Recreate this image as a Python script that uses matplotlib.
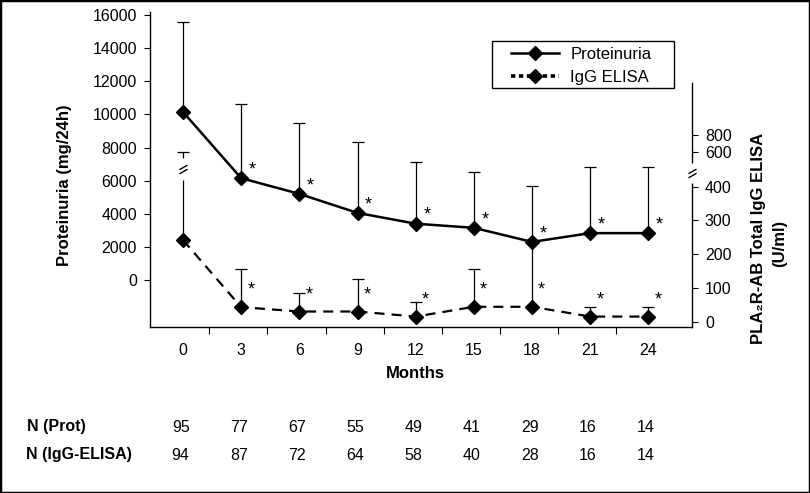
import numpy as np
import matplotlib
matplotlib.use('Agg')
import matplotlib.pyplot as plt
from matplotlib.lines import Line2D
from matplotlib.patches import Rectangle
from matplotlib.path import Path
import matplotlib.transforms as mtransforms

# ---------------- data ----------------
months = ['0', '3', '6', '9', '12', '15', '18', '21', '24']
prot_mean = [10150, 6150, 5200, 4050, 3400, 3150, 2300, 2830, 2830]
prot_sd = [5430, 4480, 4270, 4280, 3730, 3400, 3390, 4010, 4010]
igg_mean = [242, 43, 30, 30, 15, 44, 44, 15, 15]
igg_sd = [358, 113, 56, 97, 42, 112, 190, 28, 28]
n_prot = [95, 77, 67, 55, 49, 41, 29, 16, 14]
n_igg = [94, 87, 72, 64, 58, 40, 28, 16, 14]
right_ticks = [0, 100, 200, 300, 400, 600, 800]
left_ticks = [0, 2000, 4000, 6000, 8000, 10000, 12000, 14000, 16000]

# broken right-axis scale (400 -> 800 compressed)
brk_v = [-1000, 400, 600, 800, 10000]
brk_l = [-1000, 400, 504, 552, 1000]


def fwd(v):
    return np.interp(v, brk_v, brk_l)


def inv(l):
    return np.interp(l, brk_l, brk_v)


SANS = ['Liberation Sans', 'DejaVu Sans']
plt.rcParams['font.family'] = SANS

W, H = 810, 493
fig = plt.figure(figsize=(W / 100, H / 100), dpi=100)
ax = fig.add_axes([150 / W, 1 - 326.7 / H, (692 - 150) / W, (326.7 - 11.7) / H])
ax2 = ax.twinx()
ax.set_zorder(ax2.get_zorder() + 1)
ax.patch.set_visible(False)

x = np.arange(len(months))

# ---- IgG ELISA (right axis) ----
ax2.set_yscale('function', functions=(fwd, inv))
ax2.errorbar(x, igg_mean, yerr=[np.zeros(len(x)), igg_sd], fmt='none',
             ecolor='black', elinewidth=0.9, capsize=4, capthick=0.9, zorder=2)
ax2.plot(x, igg_mean, color='black', lw=1.6, dashes=(4.5, 3.2), marker='D',
         markersize=7.5, markerfacecolor='black', markeredgecolor='black', zorder=3)
ax2.set_yticks(right_ticks)
ax2.set_yticklabels([str(t) for t in right_ticks])
ax2.yaxis.set_minor_locator(matplotlib.ticker.NullLocator())
ax2.tick_params(axis='y', direction='out', length=4.3, width=0.8, pad=5, labelsize=11.5)
for s in ['top', 'left', 'bottom']:
    ax2.spines[s].set_visible(False)
ax2.spines['right'].set_linewidth(1.0)

for xi, yi in zip(x[1:], igg_mean[1:]):
    ax2.annotate('*', (xi, yi), xytext=(7, 12), textcoords='offset points',
                 ha='center', va='center', fontsize=13)

# ---- Proteinuria (left axis) ----
ax.errorbar(x, prot_mean, yerr=[np.zeros(len(x)), prot_sd], fmt='none',
            ecolor='black', elinewidth=0.9, capsize=4, capthick=0.9, zorder=2)
ax.plot(x, prot_mean, color='black', lw=1.8, marker='D', markersize=7.5,
        markerfacecolor='black', markeredgecolor='black', zorder=3)
for xi, yi in zip(x[1:], prot_mean[1:]):
    ax.annotate('*', (xi, yi), xytext=(8, 6), textcoords='offset points',
                ha='center', va='center', fontsize=13)

ax.set_xlim(-0.567, 8.75)
ax.set_ylim(-2820, 16200)
ax.set_yticks(left_ticks)
ax.tick_params(axis='y', direction='out', length=4.3, width=0.8, pad=5, labelsize=11.5)
ax.set_xticks(np.arange(8) + 0.45)
ax.set_xticklabels([])
ax.set_xticks(x, minor=True)
ax.set_xticklabels(months, minor=True, fontsize=11.5)
ax.tick_params(axis='x', which='major', direction='out', length=5, width=0.8)
ax.tick_params(axis='x', which='minor', length=0, pad=12)
for s in ['top', 'right']:
    ax.spines[s].set_visible(False)
for s in ['left', 'bottom']:
    ax.spines[s].set_linewidth(1.0)

ax.set_ylabel('Proteinuria (mg/24h)', fontsize=12, fontweight='bold')
ax.yaxis.set_label_coords((72 - 150) / 542, (326.7 - 185) / 315)

# axis-break symbols ("//") drawn as markers
brk_path = Path([(-3.5, -3.8), (3.5, 0.2), (-3.5, -0.2), (3.5, 3.8)],
                [Path.MOVETO, Path.LINETO, Path.MOVETO, Path.LINETO])
gap_path = Path([(-5, -11), (5, -11), (5, 11), (-5, 11), (-5, -11)],
                [Path.MOVETO, Path.LINETO, Path.LINETO, Path.LINETO, Path.CLOSEPOLY])
right_bt = mtransforms.blended_transform_factory(ax2.transAxes, ax2.transData)
for xx, yy, tr, gh in [(0, 503, ax2.transData, 16.5), (1, 478, right_bt, 14.5)]:
    ax2.plot([xx], [yy], transform=tr, marker=gap_path, markersize=gh,
             markerfacecolor='white', markeredgecolor='none', linestyle='none',
             zorder=6, clip_on=False)
    ax2.plot([xx], [yy], transform=tr, marker=brk_path, markersize=6.3,
             markerfacecolor='none', markeredgecolor='black', markeredgewidth=1.0,
             linestyle='none', zorder=7, clip_on=False)

ax2.set_xlim(-0.567, 8.75)
ax2.set_ylim(-15, float(inv(918.5)))
ax2.spines['right'].set_bounds(-15, float(inv(706)))

bt = mtransforms.blended_transform_factory(ax.transData, fig.transFigure)
ax.text(4, 1 - 374 / H, 'Months', transform=bt, ha='center', va='center',
        fontsize=12, fontweight='bold')

# right label
fig.text(759 / W, 1 - 238 / H, 'PLA₂R-AB Total IgG ELISA', rotation=90,
         ha='center', va='center', fontsize=12, fontweight='bold')
fig.text(780 / W, 1 - 243 / H, '(U/ml)', rotation=90,
         ha='center', va='center', fontsize=12, fontweight='bold')

# N rows
fig.text(27 / W, 1 - 427 / H, 'N (Prot)', ha='left', va='center',
         fontsize=11.5, fontweight='bold')
fig.text(26 / W, 1 - 455 / H, 'N (IgG-ELISA)', ha='left', va='center',
         fontsize=11.5, fontweight='bold')
for xi, a, b in zip(x, n_prot, n_igg):
    ax.text(xi - 0.04, 1 - 427 / H, str(a), transform=bt, ha='center', va='center',
            fontsize=11.5, clip_on=False)
    ax.text(xi - 0.04, 1 - 455 / H, str(b), transform=bt, ha='center', va='center',
            fontsize=11.5, clip_on=False)

# legend (frameless, with separate box)
h1 = Line2D([], [], color='black', lw=1.8, marker='D', markersize=7)
h2 = Line2D([], [], color='black', lw=2.6, linestyle=(0, (1.2, 1.0)), marker='D', markersize=7)
leg = ax.legend([h1, h2], ['Proteinuria', 'IgG ELISA'], loc='upper left',
                bbox_to_anchor=(511 / W, 1 - 47 / H), bbox_transform=fig.transFigure,
                borderaxespad=0, frameon=False, fontsize=12, handlelength=2.85,
                handletextpad=0.72, labelspacing=0.5, borderpad=0)
leg.set_zorder(10)
fig.patches.append(Rectangle((492 / W, 1 - 88 / H), (674 - 492) / W, (88 - 41) / H,
                             transform=fig.transFigure, fill=True, facecolor='white',
                             edgecolor='black', lw=1.0, zorder=0))

# outer frame
fig.patches.append(Rectangle((0, 0), 1, 1, transform=fig.transFigure, fill=False,
                             edgecolor='black', lw=2.5, zorder=20))

fig.savefig('out.png', dpi=100)
